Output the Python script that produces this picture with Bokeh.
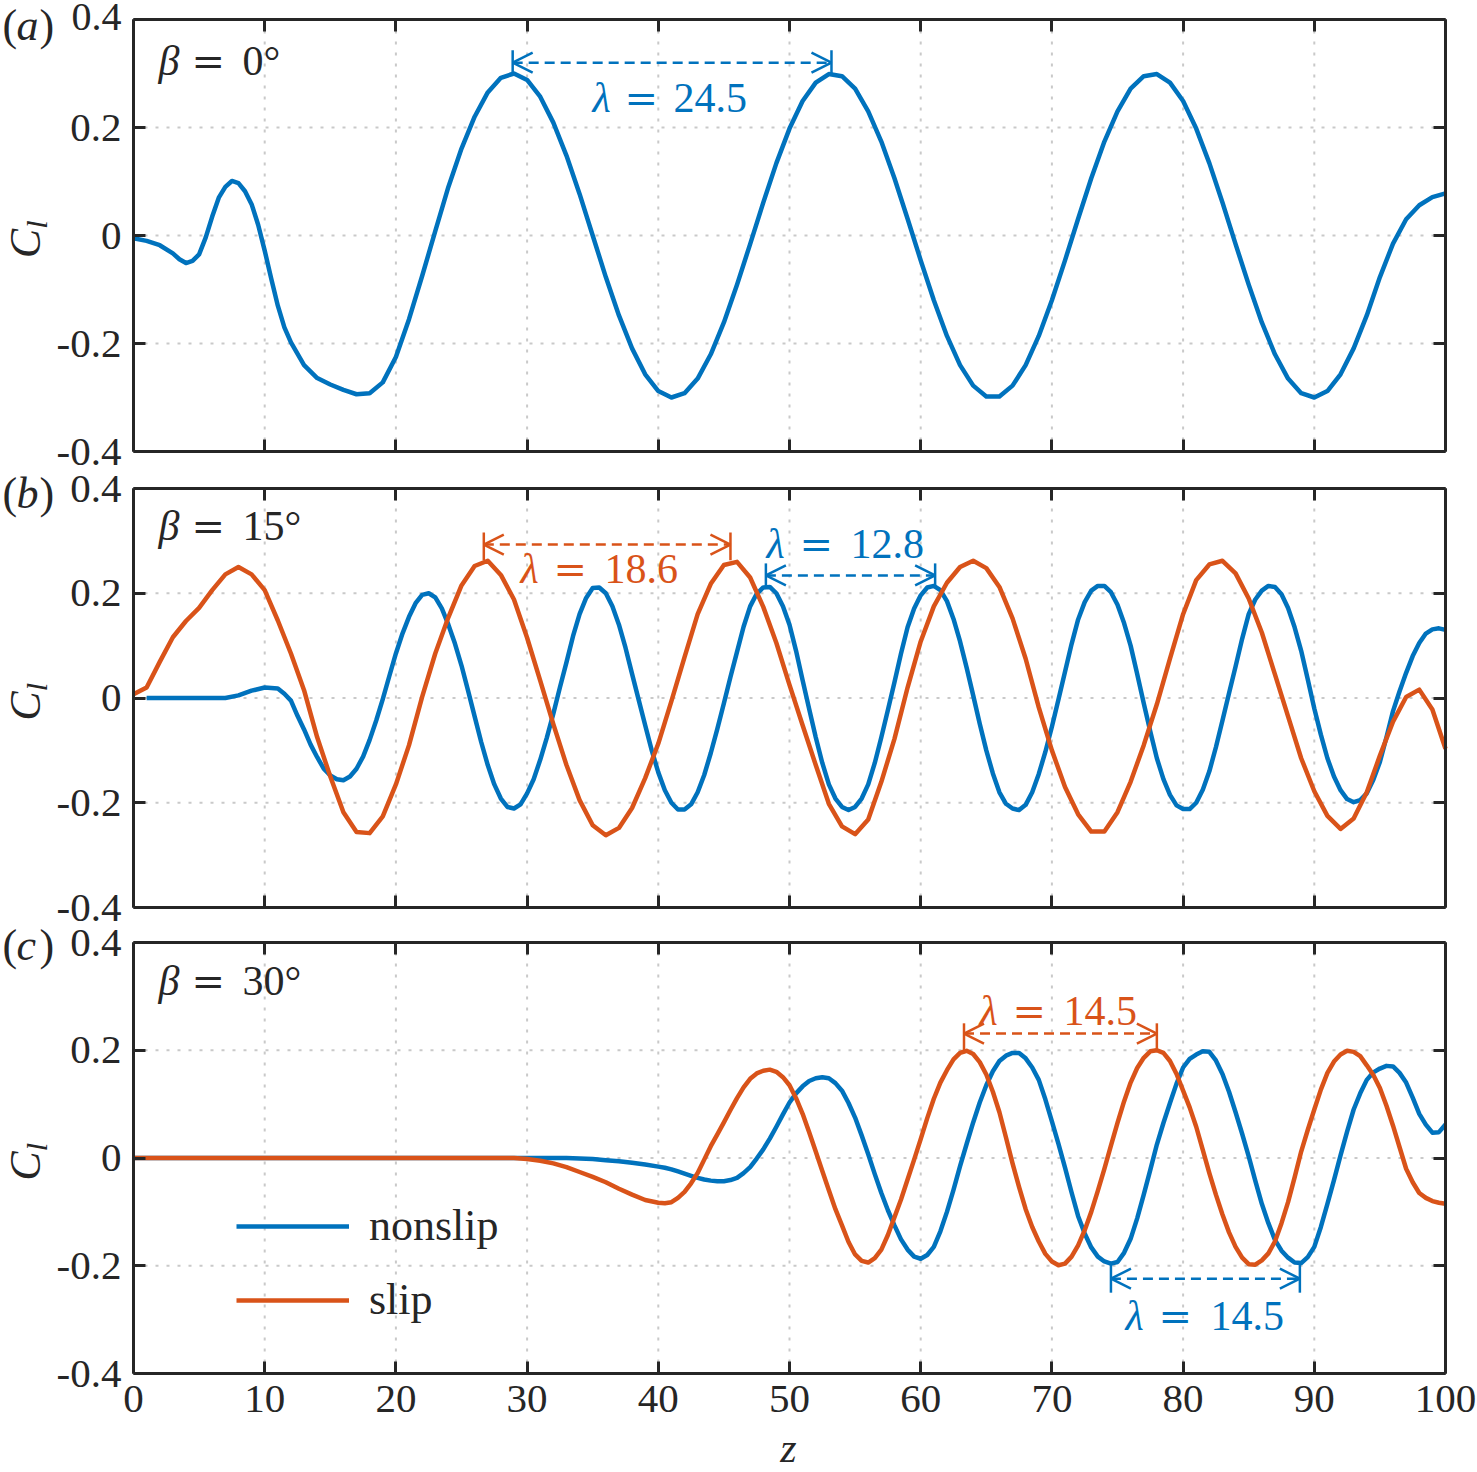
import math
from bokeh.plotting import figure
from bokeh.models import (Range1d, FixedTicker, LinearAxis, Label, Arrow, OpenHead,
                          Legend, LegendItem)
from bokeh.embed import file_html
from bokeh.resources import INLINE

BLUE = "#0072BD"
ORANGE = "#D95319"
INK = "#262626"
GRID = "#c9c9c9"
FONT = "Liberation Serif"
EQ_FONT = "DejaVu Serif"

# ---------------- data ----------------
# panel (a): beta = 0 deg, nonslip only
z_a = [0, 1, 2, 3, 3.5, 4, 4.5, 5, 5.5, 6, 6.5, 7, 7.5, 8, 8.5, 9, 9.5, 10, 10.5, 11, 11.5, 12] + list(range(13, 101))
cl_a_nonslip = [
    -0.005, -0.010, -0.018, -0.033, -0.044, -0.051, -0.047, -0.035, -0.004, 0.035, 0.070,
    0.090, 0.101, 0.097, 0.082, 0.058, 0.020, -0.028, -0.080, -0.130, -0.170, -0.198,
    -0.240, -0.264, -0.276, -0.286, -0.294, -0.292, -0.272, -0.225, -0.155, -0.075,  # 13-22
    0.008, 0.090, 0.161, 0.220, 0.265, 0.292, 0.300, 0.288, 0.257, 0.209,            # 23-32
    0.148, 0.077, 0.000, -0.077, -0.148, -0.209, -0.257, -0.288, -0.300, -0.292,      # 33-42
    -0.265, -0.220, -0.161, -0.091, -0.016, 0.061, 0.134, 0.198, 0.249, 0.283,        # 43-52
    0.299, 0.295, 0.272, 0.230, 0.174, 0.106, 0.031, -0.046, -0.120, -0.186,          # 53-62
    -0.240, -0.278, -0.298, -0.298, -0.278, -0.240, -0.186, -0.120, -0.046, 0.031,    # 63-72
    0.106, 0.174, 0.230, 0.272, 0.295, 0.299, 0.283, 0.249, 0.198, 0.134,            # 73-82
    0.061, -0.016, -0.091, -0.161, -0.220, -0.265, -0.292, -0.300, -0.288, -0.257,    # 83-92
    -0.209, -0.148, -0.077, -0.015, 0.030, 0.056, 0.071, 0.078,                       # 93-100
]

# panel (b): beta = 15 deg
z_b_slip = list(range(0, 101))
cl_b_slip = [
    0.007, 0.020, 0.069, 0.116, 0.147, 0.172, 0.206, 0.236, 0.250, 0.236,
    0.206, 0.148, 0.085, 0.015, -0.075, -0.150, -0.218, -0.256, -0.258, -0.226,
    -0.165, -0.090, 0.002, 0.085, 0.154, 0.215, 0.252, 0.262, 0.235, 0.188,
    0.115, 0.033, -0.050, -0.128, -0.195, -0.243, -0.262, -0.248, -0.210, -0.153,
    -0.087, -0.006, 0.078, 0.160, 0.218, 0.254, 0.260, 0.230, 0.174, 0.105,
    0.025, -0.052, -0.128, -0.202, -0.245, -0.260, -0.232, -0.160, -0.078, 0.020,
    0.108, 0.175, 0.220, 0.250, 0.262, 0.248, 0.212, 0.152, 0.075, -0.018,
    -0.100, -0.170, -0.222, -0.255, -0.255, -0.218, -0.160, -0.090, -0.012, 0.075,
    0.160, 0.225, 0.255, 0.262, 0.238, 0.190, 0.125, 0.045, -0.035, -0.115,
    -0.178, -0.225, -0.250, -0.230, -0.180, -0.110, -0.045, 0.002, 0.016, -0.022,
    -0.097,
]
z_b_nonslip = list(range(1, 12)) + [11.5 + 0.5 * k for k in range(178)]
cl_b_nonslip = [
    0.000, 0.000, 0.000, 0.000, 0.000, 0.000, 0.000, 0.005, 0.014, 0.020, 0.018,   # 1-11
    0.008, -0.005, -0.034, -0.060, -0.089, -0.113, -0.135, -0.148, -0.155,          # 11.5-15.5
    -0.157, -0.150, -0.135, -0.112, -0.080, -0.043, -0.002, 0.042,                  # 16-19.5
    0.085, 0.123, 0.155, 0.181, 0.197, 0.200, 0.192, 0.171, 0.140, 0.104,          # 20-24.5
    0.062, 0.014, -0.035, -0.084, -0.128, -0.165, -0.192, -0.208, -0.211, -0.203,   # 25-29.5
    -0.182, -0.155, -0.118, -0.076, -0.030, 0.020, 0.068, 0.118, 0.160, 0.191,     # 30-34.5
    0.210, 0.211, 0.200, 0.175, 0.140, 0.096, 0.046, -0.003, -0.052, -0.100,       # 35-39.5
    -0.142, -0.176, -0.200, -0.213, -0.213, -0.203, -0.180, -0.147, -0.105, -0.059, # 40-44.5
    -0.010, 0.040, 0.088, 0.136, 0.175, 0.199, 0.211, 0.212, 0.200, 0.175,         # 45-49.5
    0.140, 0.090, 0.034, -0.021, -0.075, -0.124, -0.165, -0.192, -0.208, -0.214,   # 50-54.5
    -0.208, -0.192, -0.165, -0.124, -0.075, -0.023, 0.030, 0.085, 0.135, 0.171,    # 55-59.5
    0.196, 0.211, 0.214, 0.206, 0.185, 0.151, 0.108, 0.058, 0.005, -0.049,         # 60-64.5
    -0.100, -0.144, -0.180, -0.202, -0.211, -0.214, -0.204, -0.180, -0.145, -0.103, # 65-69.5
    -0.055, -0.003, 0.050, 0.103, 0.150, 0.183, 0.205, 0.214, 0.214, 0.202,       # 70-74.5
    0.178, 0.143, 0.100, 0.046, -0.010, -0.064, -0.115, -0.155, -0.185, -0.205,    # 75-79.5
    -0.212, -0.212, -0.200, -0.175, -0.140, -0.094, -0.043, 0.009, 0.060, 0.113,   # 80-84.5
    0.160, 0.188, 0.205, 0.214, 0.212, 0.198, 0.172, 0.135, 0.090, 0.036,          # 85-89.5
    -0.020, -0.070, -0.115, -0.150, -0.176, -0.193, -0.199, -0.195, -0.182, -0.156, # 90-94.5
    -0.122, -0.075, -0.025, 0.013, 0.048, 0.080, 0.105, 0.123, 0.131, 0.133,       # 95-99.5
    0.130,                                                                          # 100
]

# panel (c): beta = 30 deg
z_c = list(range(0, 40)) + [40 + 0.5 * k for k in range(121)]
cl_c_nonslip = [0.0] * 34 + [-0.001, -0.002, -0.004, -0.006, -0.009, -0.012] + [
    -0.016, -0.018, -0.021, -0.025, -0.029, -0.033, -0.037, -0.040, -0.042, -0.043,
    -0.043, -0.041, -0.037, -0.028, -0.017, -0.001, 0.016, 0.036, 0.058, 0.081,     # 40-49.5
    0.103, 0.120, 0.133, 0.143, 0.148, 0.150, 0.148, 0.139, 0.125, 0.102,
    0.075, 0.042, 0.007, -0.030, -0.065, -0.097, -0.125, -0.151, -0.170, -0.183,    # 50-59.5
    -0.187, -0.180, -0.165, -0.136, -0.100, -0.059, -0.015, 0.026, 0.066, 0.103,
    0.135, 0.161, 0.180, 0.190, 0.195, 0.195, 0.185, 0.168, 0.145, 0.109,          # 60-69.5
    0.068, 0.026, -0.018, -0.064, -0.108, -0.140, -0.166, -0.183, -0.192, -0.196,
    -0.193, -0.176, -0.150, -0.112, -0.068, -0.022, 0.025, 0.065, 0.102, 0.138,    # 70-79.5
    0.168, 0.184, 0.192, 0.198, 0.197, 0.181, 0.156, 0.123, 0.085, 0.045,
    0.003, -0.042, -0.085, -0.121, -0.152, -0.172, -0.185, -0.194, -0.195, -0.184,  # 80-89.5
    -0.165, -0.128, -0.085, -0.041, 0.005, 0.049, 0.090, 0.120, 0.145, 0.159,
    0.166, 0.171, 0.170, 0.158, 0.140, 0.112, 0.082, 0.062, 0.047, 0.048,          # 90-99.5
    0.062,                                                                         # 100
]
cl_c_slip = [0.0] * 30 + [-0.002, -0.005, -0.010, -0.017, -0.026, -0.035, -0.045, -0.057, -0.068, -0.078] + [
    -0.083, -0.084, -0.082, -0.074, -0.063, -0.047, -0.028, -0.003, 0.022, 0.044,
    0.066, 0.089, 0.111, 0.131, 0.147, 0.157, 0.162, 0.164, 0.160, 0.150,           # 40-49.5
    0.135, 0.111, 0.082, 0.048, 0.012, -0.024, -0.060, -0.095, -0.125, -0.156,
    -0.179, -0.191, -0.194, -0.186, -0.170, -0.143, -0.110, -0.077, -0.040, -0.003,  # 50-59.5
    0.035, 0.074, 0.110, 0.140, 0.163, 0.183, 0.195, 0.199, 0.193, 0.178,
    0.155, 0.123, 0.085, 0.038, -0.010, -0.054, -0.095, -0.128, -0.155, -0.178,     # 60-69.5
    -0.192, -0.199, -0.196, -0.183, -0.162, -0.134, -0.100, -0.061, -0.020, 0.023,
    0.065, 0.105, 0.140, 0.167, 0.186, 0.198, 0.200, 0.195, 0.180, 0.156,           # 70-79.5
    0.125, 0.094, 0.058, 0.015, -0.028, -0.068, -0.105, -0.138, -0.165, -0.185,
    -0.197, -0.198, -0.190, -0.177, -0.155, -0.121, -0.082, -0.036, 0.012, 0.052,   # 80-89.5
    0.090, 0.127, 0.158, 0.179, 0.192, 0.199, 0.197, 0.189, 0.172, 0.154,
    0.130, 0.097, 0.060, 0.020, -0.020, -0.045, -0.065, -0.074, -0.080, -0.083,     # 90-99.5
    -0.085,                                                                         # 100
]

assert len(z_a) == len(cl_a_nonslip)
assert len(z_b_slip) == len(cl_b_slip)
assert len(z_b_nonslip) == len(cl_b_nonslip)
assert len(z_c) == len(cl_c_nonslip) == len(cl_c_slip)

panel_keys = ["default", "b", "c"]
panel_tags = ["a", "b", "c"]
panel_betas = ["0°", "15°", "30°"]
series_labels = ["nonslip", "slip"]
x_ticks = [0, 10, 20, 30, 40, 50, 60, 70, 80, 90, 100]
y_ticks = [-0.4, -0.2, 0, 0.2, 0.4]
y_tick_text = ["-0.4", "-0.2", "0", "0.2", "0.4"]

# wavelength markers (z positions of the marked crests / troughs, arrow level)
lam_panel = [0, 1, 1, 2, 2]
lam_series = ["nonslip", "slip", "nonslip", "slip", "nonslip"]
lam_z0 = [28.9, 26.7, 48.2, 63.3, 74.5]
lam_z1 = [53.2, 45.5, 61.1, 78.0, 88.9]
lam_y = [0.320, 0.293, 0.234, 0.231, -0.224]
lam_bar_a = [0.343, 0.316, 0.257, 0.250, -0.196]
lam_bar_b = [0.300, 0.263, 0.212, 0.200, -0.250]
lam_value = ["24.5", "18.6", "12.8", "14.5", "14.5"]

colors = {"nonslip": BLUE, "slip": ORANGE}

# ---------------- layout (pixels) ----------------
W, H = 1477, 1472
X0_PX, X1_PX = 133, 1445
PANEL_PX = {"default": (19, 451), "b": (488, 907), "c": (942, 1373)}
SX = (X1_PX - X0_PX) / 100.0


def px2z(px):
    return (px - X0_PX) / SX


def py2cl(key, py):
    t, b = PANEL_PX[key]
    return 0.4 - (py - t) * 0.8 / (b - t)


def yrange(key):
    t, b = PANEL_PX[key]
    s = (b - t) / 0.8
    return Range1d(-0.4 - (H - b) / s, 0.4 + t / s)


# text positions (page pixels): lambda-start, '='-start, number-start, centre y
lam_text_px = [(592, 624, 673, 97), (520, 553, 604, 568), (766, 799, 850, 543),
               (979, 1012, 1063, 1010), (1125, 1158, 1210, 1315)]

p = figure(width=W, height=H, x_range=Range1d(px2z(0), px2z(W)), y_range=yrange("default"),
           x_axis_location=None, y_axis_location=None, min_border=0,
           output_backend="svg", toolbar_location=None)
p.extra_y_ranges = {"b": yrange("b"), "c": yrange("c")}
p.outline_line_color = None
p.background_fill_color = "white"
p.border_fill_color = "white"
for g in p.grid:
    g.visible = False
    g.grid_line_color = None

TICK_FS = "41px"
TEXT_FS = "42px"
EQ_FS = "40px"


def make_axis(key, loc, ticks, bounds, labels):
    ax = LinearAxis(y_range_name=key, fixed_location=loc, bounds=bounds,
                    ticker=FixedTicker(ticks=ticks), major_label_overrides=labels)
    ax.axis_line_color = INK
    ax.axis_line_width = 3
    ax.major_tick_line_color = INK
    ax.major_tick_line_width = 3
    ax.major_tick_in = 12
    ax.major_tick_out = 0
    ax.minor_tick_line_color = None
    ax.major_label_text_font = FONT
    ax.major_label_text_color = INK
    ax.major_label_text_font_size = TICK_FS
    ax.major_label_standoff = 12
    return ax


for i, key in enumerate(panel_keys):
    # dotted grid
    inner_x = x_ticks[1:-1]
    inner_y = y_ticks[1:-1]
    p.segment(x0=inner_x, y0=[y_ticks[0]] * len(inner_x), x1=inner_x, y1=[y_ticks[-1]] * len(inner_x),
              y_range_name=key, line_color=GRID, line_width=2, line_dash="3 8")
    p.segment(x0=[x_ticks[0]] * len(inner_y), y0=inner_y, x1=[x_ticks[-1]] * len(inner_y), y1=inner_y,
              y_range_name=key, line_color=GRID, line_width=2, line_dash="3 8")
    # box axes
    left_labels = dict(zip(y_ticks, y_tick_text))
    if i == 0:
        # top label of the first panel is placed separately so that it stays inside the page
        left_labels[y_ticks[-1]] = ""
    p.add_layout(make_axis(key, x_ticks[0], y_ticks, (y_ticks[0], y_ticks[-1]), left_labels), "left")
    p.add_layout(make_axis(key, x_ticks[-1], y_ticks, (y_ticks[0], y_ticks[-1]),
                           {t: "" for t in y_ticks}), "right")
    bottom_labels = {t: str(t) for t in x_ticks} if i == 2 else {t: "" for t in x_ticks}
    p.add_layout(make_axis(key, y_ticks[0], x_ticks, (x_ticks[0], x_ticks[-1]), bottom_labels), "below")
    p.add_layout(make_axis(key, y_ticks[-1], x_ticks, (x_ticks[0], x_ticks[-1]),
                           {t: "" for t in x_ticks}), "above")

# top tick label of panel (a)
p.add_layout(Label(x=px2z(121), y=py2cl("default", 3), text=y_tick_text[-1], text_align="right",
                   text_baseline="top", text_font=FONT, text_font_size="40px", text_color=INK))

# curves (slip drawn over nonslip)
p.line(z_a, cl_a_nonslip, line_color=BLUE, line_width=4.5, line_join="round")
p.line(z_b_nonslip, cl_b_nonslip, y_range_name="b", line_color=BLUE, line_width=4.5, line_join="round")
p.line(z_b_slip, cl_b_slip, y_range_name="b", line_color=ORANGE, line_width=4.5, line_join="round")
r_cn = p.line(z_c, cl_c_nonslip, y_range_name="c", line_color=BLUE, line_width=4.5, line_join="round")
r_cs = p.line(z_c, cl_c_slip, y_range_name="c", line_color=ORANGE, line_width=4.5, line_join="round")

# legend (panel c)
legend = Legend(items=[LegendItem(label=series_labels[0], renderers=[r_cn]),
                       LegendItem(label=series_labels[1], renderers=[r_cs])],
                location=(236, 147), orientation="vertical")
legend.label_text_font = FONT
legend.label_text_font_size = "44px"
legend.label_text_color = INK
legend.glyph_width = 113
legend.glyph_height = 50
legend.label_height = 50
legend.label_standoff = 20
legend.spacing = 23
legend.padding = 0
legend.margin = 0
legend.border_line_color = None
legend.background_fill_alpha = 0
p.add_layout(legend)

# wavelength annotations
for k in range(len(lam_panel)):
    key = panel_keys[lam_panel[k]]
    c = colors[lam_series[k]]
    p.add_layout(Arrow(x_start=lam_z0[k], y_start=lam_y[k], x_end=lam_z1[k], y_end=lam_y[k],
                       y_range_name=key, line_color=c, line_width=2.5, line_dash="10 6",
                       start=OpenHead(size=20, line_color=c, line_width=2.5),
                       end=OpenHead(size=20, line_color=c, line_width=2.5)))
    p.segment(x0=[lam_z0[k], lam_z1[k]], y0=[lam_bar_a[k]] * 2,
              x1=[lam_z0[k], lam_z1[k]], y1=[lam_bar_b[k]] * 2,
              y_range_name=key, line_color=c, line_width=2.5)
    lx, ex, nx, ty = lam_text_px[k]
    yy = py2cl(key, ty)
    p.add_layout(Label(x=px2z(lx), y=yy, y_range_name=key, text="λ", text_align="left",
                       text_baseline="middle", text_font=FONT, text_font_style="italic",
                       text_font_size=TEXT_FS, text_color=c))
    p.add_layout(Label(x=px2z(ex), y=yy, y_range_name=key, text="=", text_align="left",
                       text_baseline="middle", text_font=EQ_FONT, text_font_size=EQ_FS, text_color=c))
    p.add_layout(Label(x=px2z(nx), y=yy, y_range_name=key, text=lam_value[k], text_align="left",
                       text_baseline="middle", text_font=FONT, text_font_size=TEXT_FS, text_color=c))

# panel texts
beta_y_px = [60, 525, 980]
tag_y_px = [25, 493, 945]
for i, key in enumerate(panel_keys):
    t, b = PANEL_PX[key]
    mid = (t + b) / 2.0
    by = py2cl(key, beta_y_px[i])
    p.add_layout(Label(x=px2z(158), y=by, y_range_name=key, text="β", text_align="left",
                       text_baseline="middle", text_font=FONT, text_font_style="italic",
                       text_font_size=TEXT_FS, text_color=INK))
    p.add_layout(Label(x=px2z(191), y=by, y_range_name=key, text="=", text_align="left",
                       text_baseline="middle", text_font=EQ_FONT, text_font_size=EQ_FS, text_color=INK))
    p.add_layout(Label(x=px2z(242), y=by, y_range_name=key, text=panel_betas[i], text_align="left",
                       text_baseline="middle", text_font=FONT, text_font_size=TEXT_FS, text_color=INK))
    ty = py2cl(key, tag_y_px[i])
    p.add_layout(Label(x=px2z(2), y=ty, y_range_name=key, text="(", text_align="left",
                       text_baseline="middle", text_font=FONT, text_font_size="44px", text_color=INK))
    p.add_layout(Label(x=px2z(16), y=ty, y_range_name=key, text=panel_tags[i], text_align="left",
                       text_baseline="middle", text_font=FONT, text_font_style="italic",
                       text_font_size="44px", text_color=INK))
    p.add_layout(Label(x=px2z(39), y=ty, y_range_name=key, text=")", text_align="left",
                       text_baseline="middle", text_font=FONT, text_font_size="44px", text_color=INK))
    # y label C_l
    p.add_layout(Label(x=px2z(25), y=py2cl(key, mid + 8), y_range_name=key, text="C",
                       angle=math.pi / 2, text_align="center", text_baseline="middle",
                       text_font=FONT, text_font_style="italic", text_font_size="44px", text_color=INK))
    p.add_layout(Label(x=px2z(36), y=py2cl(key, mid - 11), y_range_name=key, text="l",
                       angle=math.pi / 2, text_align="center", text_baseline="middle",
                       text_font=FONT, text_font_style="italic", text_font_size="30px", text_color=INK))

# x label
p.add_layout(Label(x=px2z(788), y=py2cl("c", 1470), y_range_name="c", text="z", text_align="center",
                   text_baseline="bottom", text_font=FONT, text_font_style="italic",
                   text_font_size=TEXT_FS, text_color=INK))

open("out.html", "w").write(file_html(p, INLINE))
